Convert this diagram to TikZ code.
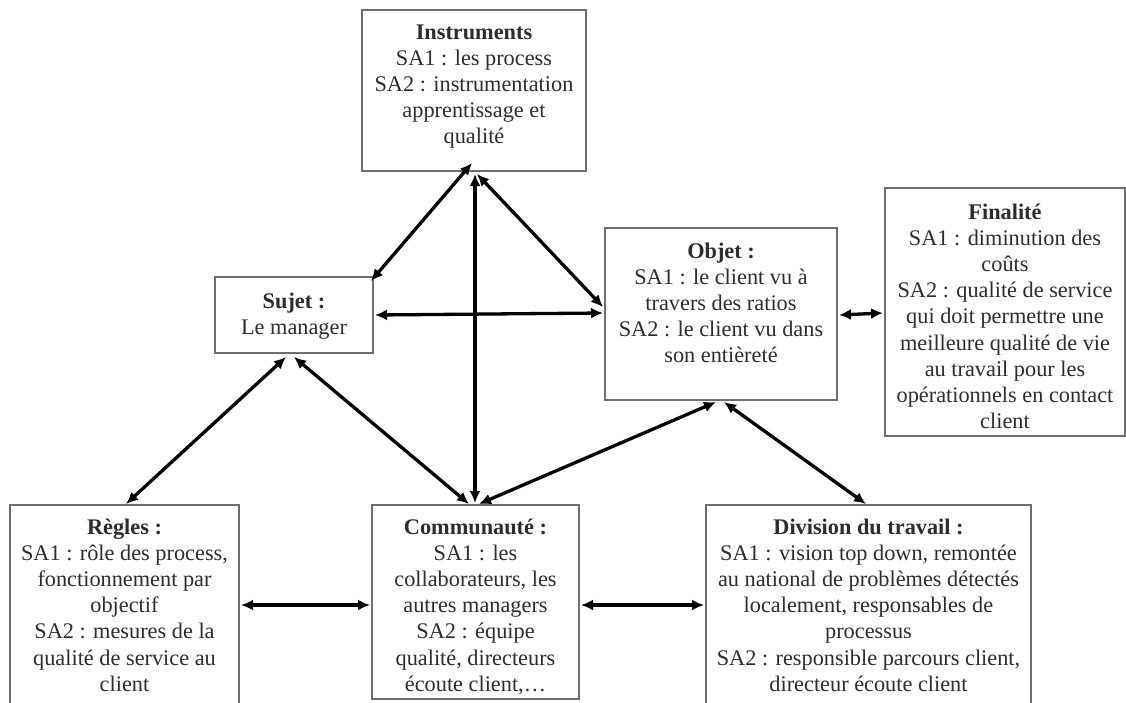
\documentclass[tikz,border=0pt]{standalone}
\usepackage{fontspec}
\setmainfont{Liberation Serif}
\usetikzlibrary{arrows.meta,calc}
\definecolor{boxgray}{RGB}{110,110,110}
\definecolor{txtcol}{RGB}{45,45,45}
\begin{document}
\begin{tikzpicture}[x=1pt,y=-1pt]
\tikzset{
 box/.style={draw=boxgray,line width=1.4pt,inner sep=0pt,outer sep=0pt,rectangle},
 txt/.style={anchor=north,align=center,inner sep=0pt,font=\fontsize{22.3}{26.2}\selectfont,text=txtcol},
 con/.style={line width=3.3pt,{Latex[length=12pt,width=11pt]}-{Latex[length=12pt,width=11pt]}}
}
\useasboundingbox (0,0) rectangle (1126,702);
\clip (0,0) rectangle (1126,702);
\fill[white] (0,0) rectangle (1126,702);

% boxes
\node[box,minimum width=224pt,minimum height=161pt] (inst) at (474,90.5) {};
\node[box,minimum width=158pt,minimum height=76pt] (suj) at (294,315) {};
\node[box,minimum width=232pt,minimum height=172pt] (obj) at (721,314) {};
\node[box,minimum width=240pt,minimum height=248pt] (fin) at (1005,312) {};
\node[box,minimum width=229pt,minimum height=214pt] (reg) at (124.5,612) {};
\node[box,minimum width=207pt,minimum height=194pt] (com) at (475.5,602) {};
\node[box,minimum width=325pt,minimum height=214pt] (div) at (868.5,612) {};

% texts
\node[txt] (instT) at (474,20.5) {\strut\textbf{Instruments}\\SA1 : les process\\SA2 : instrumentation\\apprentissage et\\qualité};
\node[txt] (sujT) at (294,289.5) {\strut\textbf{Sujet :}\\Le manager};
\node[txt] (objT) at (721,239.5) {\strut\textbf{Objet :}\\SA1 : le client vu à\\travers des ratios\\SA2 : le client vu dans\\son entièreté};
\node[txt] (finT) at (1005,200.5) {\strut\textbf{Finalité}\\SA1 : diminution des\\coûts\\SA2 : qualité de service\\qui doit permettre une\\meilleure qualité de vie\\au travail pour les\\opérationnels en contact\\client};
\node[txt] (regT) at (124.5,515.5) {\strut\textbf{Règles :}\\SA1 : rôle des process,\\fonctionnement par\\objectif\\SA2 : mesures de la\\qualité de service au\\client};
\node[txt] (comT) at (475.5,515.5) {\strut\textbf{Communauté :}\\SA1 : les\\collaborateurs, les\\autres managers\\SA2 : équipe\\qualité, directeurs\\écoute client,…};
\node[txt] (divT) at (868.5,515.5) {\strut\textbf{Division du travail :}\\SA1 : vision top down, remontée\\au national de problèmes détectés\\localement, responsables de\\processus\\SA2 : responsible parcours client,\\directeur écoute client};

% connectors
\draw[con] ([xshift=-2pt,yshift=8pt]inst.south) -- ([xshift=-2pt,yshift=-4pt]suj.north east);
\draw[con] ([xshift=1pt,yshift=-3pt]inst.south) -- ([xshift=-0.5pt,yshift=2pt]com.north);
\draw[con] ([xshift=3pt,yshift=-3pt]inst.south) -- ([xshift=-2pt,yshift=7pt]obj.west);
\draw[con] ([xshift=2pt]suj.east) -- ([xshift=-2pt,yshift=1pt]obj.west);
\draw[con] ([xshift=-8pt,yshift=-4pt]suj.south) -- ([xshift=1.5pt,yshift=1pt]reg.north);
\draw[con] ([yshift=-4pt]suj.south) -- ([xshift=-6.5pt,yshift=1pt]com.north);
\draw[con] ([xshift=3.5pt,yshift=1pt]com.north) -- ([xshift=-5pt,yshift=-2pt]obj.south);
\draw[con] ([xshift=3pt,yshift=-2pt]obj.south) -- ([xshift=-2.5pt,yshift=1pt]div.north);
\draw[con] ([xshift=2pt,yshift=-1pt]obj.east) -- ([xshift=-2pt,yshift=-1pt]fin.west);
\draw[con] ([xshift=2pt,yshift=7pt]reg.east) -- ([xshift=-2pt,yshift=-3pt]com.west);
\draw[con] ([xshift=2pt,yshift=-3pt]com.east) -- ([xshift=-2pt,yshift=7pt]div.west);
\end{tikzpicture}
\end{document}
